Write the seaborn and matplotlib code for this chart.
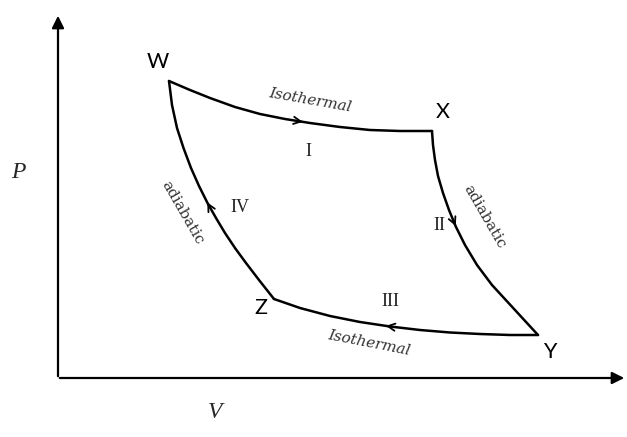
import numpy as np
import pandas as pd
import matplotlib
matplotlib.use("Agg")
import matplotlib.pyplot as plt
import seaborn as sns

# cycle W -> X -> Y -> Z -> W, (V, P) in arbitrary units
v_wx = [169, 190, 210, 235, 260, 285, 310, 340, 370, 400, 432]
p_wx = [356, 347, 339, 330, 323, 318, 314, 310, 307, 306, 306]
v_xy = [432, 433, 435, 438, 443, 449, 456, 465, 477, 492, 515, 538]
p_xy = [306, 292, 277, 261, 244, 227, 210, 192, 172, 152, 127, 102]
v_yz = [538, 510, 480, 450, 420, 390, 360, 330, 300, 274]
p_yz = [102, 102, 103, 104.5, 107, 110.5, 115, 121, 129, 138]
v_zw = [274, 259, 246, 235, 225, 216, 207.5, 199, 191, 183.5, 177, 172, 169]
p_zw = [138, 157, 174, 189, 204, 219, 234, 251, 269, 289, 309, 332, 356]

segments = [
    ("I", v_wx, p_wx, 0.53),
    ("II", v_xy, p_xy, 0.43),
    ("III", v_yz, p_yz, 0.58),
    ("IV", v_zw, p_zw, 0.49),
]

corner_names = ["W", "X", "Y", "Z"]


def arrow_on(ax, v, p, frac):
    v, p = np.asarray(v, float), np.asarray(p, float)
    s = np.concatenate([[0], np.cumsum(np.hypot(np.diff(v), np.diff(p)))])
    t = frac * s[-1]
    tip = (np.interp(t, s, v), np.interp(t, s, p))
    tail = (np.interp(t - 8, s, v), np.interp(t - 8, s, p))
    ax.annotate("", xy=tip, xytext=tail,
                arrowprops=dict(arrowstyle="->", color="black", lw=1.3, mutation_scale=13))


sns.set_theme(style="white")
fig = plt.figure(figsize=(6.27, 4.37), dpi=100)
ax = fig.add_axes([0, 0, 1, 1])
ax.set_xlim(0, 627)
ax.set_ylim(0, 437)
ax.axis("off")

for name, v, p, frac in segments:
    sns.lineplot(x=v, y=p, sort=False, estimator=None, color="black", lw=1.8, ax=ax)
    arrow_on(ax, v, p, frac)

# axes with arrows
ax.annotate("", xy=(58, 424), xytext=(58, 58),
            arrowprops=dict(arrowstyle="-|>", color="black", lw=1.6, mutation_scale=18))
ax.annotate("", xy=(627, 59), xytext=(57, 59),
            arrowprops=dict(arrowstyle="-|>", color="black", lw=1.6, mutation_scale=18))

# corner letters
for lab, (x, y) in zip(corner_names, [(158, 375), (443, 325), (550, 85), (261, 129)]):
    ax.text(x, y, lab, fontsize=15.5, family="Lato", ha="center", va="center", color="black")

serif = "DejaVu Serif"
ax.text(310, 337, "Isothermal", fontsize=11, family=serif, style="italic",
        rotation=-10, ha="center", va="center", color="#333333")
ax.text(369, 94, "Isothermal", fontsize=11, family=serif, style="italic",
        rotation=-11, ha="center", va="center", color="#333333")
ax.text(484, 220, "adiabatic", fontsize=11, family=serif,
        rotation=-60, ha="center", va="center", color="#333333")
ax.text(182, 224, "adiabatic", fontsize=11, family=serif,
        rotation=-60, ha="center", va="center", color="#333333")

for lab, (x, y) in zip([s[0] for s in segments], [(308, 285), (439, 212), (390, 135), (240, 230)]):
    ax.text(x, y, lab, fontsize=13, family="Liberation Serif", ha="center", va="center",
            color="#222222")

ax.text(18, 265, "P", fontsize=17, family="Liberation Serif", style="italic",
        ha="center", va="center")
ax.text(215, 24, "V", fontsize=17, family="Liberation Serif", style="italic",
        ha="center", va="center")

fig.savefig("out.png", dpi=100)
